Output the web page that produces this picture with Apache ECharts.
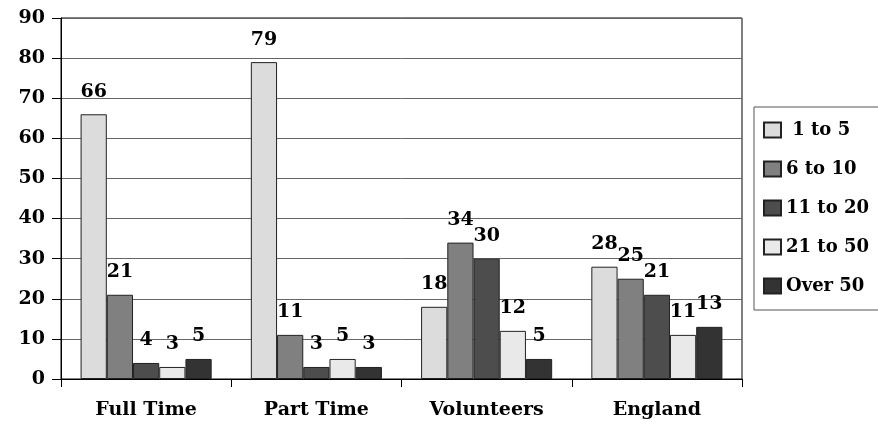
<!DOCTYPE html>
<html>
<head>
<meta charset="utf-8">
<script src="https://cdn.jsdelivr.net/npm/echarts@6/dist/echarts.min.js"></script>
<style>
  html, body { margin: 0; padding: 0; background: #fff; }
  #chart { width: 878px; height: 432px; }
</style>
</head>
<body>
<div id="chart"></div>
<script>
// Categories along the x axis
const categories = ['Full Time', 'Part Time', 'Volunteers', 'England'];

// Series names (size bands) and their values per category
const seriesNames = [' 1 to 5', '6 to 10', '11 to 20', '21 to 50', 'Over 50'];
const band1to5   = [66, 79, 18, 28];
const band6to10  = [21, 11, 34, 25];
const band11to20 = [4, 3, 30, 21];
const band21to50 = [3, 5, 12, 11];
const bandOver50 = [5, 3, 5, 13];

// Y-axis range
const yMin = 0;
const yMax = 90;
const yStep = 10;

const seriesValues = [band1to5, band6to10, band11to20, band21to50, bandOver50];
const fills = ['#dcdcdc', '#808080', '#4d4d4d', '#e9e9e9', '#333333'];

const FONT = '"DejaVu Serif", "Liberation Serif", serif';

const chart = echarts.init(document.getElementById('chart'), null, { renderer: 'canvas' });

chart.setOption({
  animation: false,
  backgroundColor: '#ffffff',
  grid: {
    left: 61, right: 136, top: 18, bottom: 53,
    show: true, borderColor: '#000', borderWidth: 1, backgroundColor: 'transparent'
  },
  legend: {
    orient: 'vertical',
    left: 754, top: 107,
    padding: [14, 20, 15, 9],
    icon: 'rect',
    itemWidth: 17, itemHeight: 15,
    itemGap: 21,
    borderColor: '#555', borderWidth: 1,
    textStyle: { fontFamily: FONT, fontWeight: 'bold', fontSize: 18, color: '#000' },
    data: seriesNames
  },
  xAxis: {
    type: 'category',
    data: categories,
    axisLine: { lineStyle: { color: '#000', width: 1 } },
    axisTick: { show: true, length: 8, lineStyle: { color: '#000' } },
    axisLabel: { margin: 22, fontFamily: FONT, fontWeight: 'bold', fontSize: 19, color: '#000' },
    splitLine: { show: false }
  },
  yAxis: {
    type: 'value',
    min: yMin, max: yMax, interval: yStep,
    axisLine: { show: true, lineStyle: { color: '#000', width: 1 } },
    axisTick: { show: true, length: 9, lineStyle: { color: '#000' } },
    axisLabel: { margin: 16, fontFamily: FONT, fontWeight: 'bold', fontSize: 19, color: '#000' },
    splitLine: { show: true, lineStyle: { color: '#666', width: 1 } }
  },
  series: seriesNames.map((name, i) => ({
    name: name,
    type: 'bar',
    data: seriesValues[i],
    barGap: '0%',
    barCategoryGap: '23%',
    itemStyle: { color: fills[i], borderColor: '#222', borderWidth: 1 },
    label: {
      show: true, position: 'top', distance: 13,
      fontFamily: FONT, fontWeight: 'bold', fontSize: 19, color: '#000'
    }
  }))
});
</script>
</body>
</html>
